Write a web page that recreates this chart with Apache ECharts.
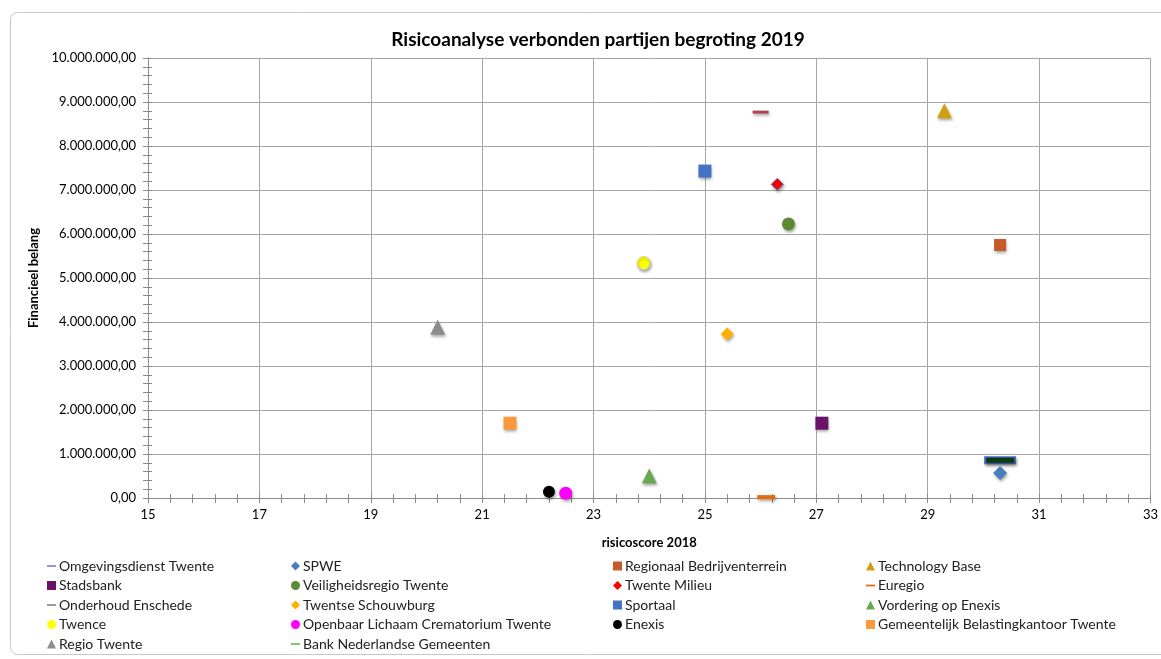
<!DOCTYPE html>
<html>
<head>
<meta charset="utf-8">
<script src="https://cdn.jsdelivr.net/npm/echarts@6/dist/echarts.min.js"></script>
<style>html,body{margin:0;padding:0;background:#fff}#c{width:1161px;height:659px}</style>
</head>
<body>
<div id="c"></div>
<script>
// Series names, values (x = risicoscore 2018, y = financieel belang)
const names = ["Omgevingsdienst Twente","SPWE","Regionaal Bedrijventerrein","Technology Base","Stadsbank","Veiligheidsregio Twente","Twente Milieu","Euregio","Onderhoud Enschede","Twentse Schouwburg","Sportaal","Vordering op Enexis","Twence","Openbaar Lichaam Crematorium Twente","Enexis","Gemeentelijk Belastingkantoor Twente","Regio Twente","Bank Nederlandse Gemeenten"];
const xValues = [30.3, 30.3, 30.3, 29.3, 27.1, 26.5, 26.3, 26.1, 26.0, 25.4, 25.0, 24.0, 23.9, 22.5, 22.2, 21.5, 20.2, 30.3];
const yValues = [860000, 570000, 5750000, 8800000, 1700000, 6230000, 7130000, 20000, 8770000, 3730000, 7430000, 500000, 5340000, 110000, 140000, 1700000, 3880000, 860000];
const xTicks = [15, 17, 19, 21, 23, 25, 27, 29, 31, 33];
const yTicks = [0, 1000000, 2000000, 3000000, 4000000, 5000000, 6000000, 7000000, 8000000, 9000000, 10000000];

// Styles
const DASH = 'path://M0,0h10v2h-10z';
const styles = [
  {symbol:'rect', size:[32,8], color:'#4f6fc0', legendColor:'#7d8fd0', icon:DASH, z:2},
  {symbol:'diamond', size:14, color:'#4a7ebb'},
  {symbol:'rect', size:12, color:'#c55b26'},
  {symbol:'triangle', size:15, color:'#d29e12'},
  {symbol:'rect', size:13, color:'#6a1368'},
  {symbol:'circle', size:13, color:'#5c8a32'},
  {symbol:'diamond', size:12, color:'#ff0000', border:'#6a6ab0'},
  {symbol:'rect', size:[18,4], color:'#e46c0a', icon:DASH},
  {symbol:'rect', size:[16,3], color:'#b0405a', legendColor:'#909090', icon:DASH},
  {symbol:'diamond', size:13, color:'#ffb000'},
  {symbol:'rect', size:13, color:'#4472c4'},
  {symbol:'triangle', size:15, color:'#6aa84f'},
  {symbol:'circle', size:13, color:'#ffff00', border:'#d0d0a0'},
  {symbol:'circle', size:13, color:'#ff00ff'},
  {symbol:'circle', size:12, color:'#000000'},
  {symbol:'rect', size:13, color:'#fb9a3c'},
  {symbol:'triangle', size:15, color:'#8c8c8c'},
  {symbol:'rect', size:[28,5], color:'#0b3d14', legendColor:'#7ab86a', icon:DASH, z:3}
];

const series = names.map((n, i) => {
  const s = styles[i];
  return {
    name: n, type: 'scatter', xAxisIndex: 0, yAxisIndex: 0,
    symbol: s.symbol, symbolSize: s.size, z: s.z || 4,
    itemStyle: {
      color: s.color, borderColor: s.border || s.color, borderWidth: s.border ? 1 : 0,
      shadowBlur: 3, shadowColor: 'rgba(0,0,0,0.35)', shadowOffsetX: 1, shadowOffsetY: 2, opacity: 1
    },
    emphasis: {disabled: true},
    data: [[xValues[i], yValues[i]]]
  };
});

function legendItem(i) {
  const s = styles[i];
  const d = {name: names[i], icon: s.icon || s.symbol};
  d.itemStyle = {shadowBlur: 0, shadowOffsetX: 0, shadowOffsetY: 0, borderWidth: 0};
  if (s.legendColor) d.itemStyle.color = s.legendColor;
  return d;
}
const cols = [[0,4,8,12,16],[1,5,9,13,17],[2,6,10,14],[3,7,11,15]];
const colLeft = [47, 291, 613, 866];
const legends = cols.map((c, k) => ({
  orient: 'vertical', left: colLeft[k], top: 559, height: 100, padding: 0,
  itemWidth: 9, itemHeight: 9, itemGap: 5.5,
  selectedMode: false,
  textStyle: {fontFamily: 'Lato', fontSize: 14, color: '#222', lineHeight: 14, padding: [0,0,0,-2]},
  data: c.map(legendItem)
}));

const fmt = v => {
  const s = Math.round(v).toString().replace(/\B(?=(\d{3})+(?!\d))/g, '.');
  return s + ',00';
};

const gridLine = {show: true, lineStyle: {color: '#a6a6a6', width: 1}};
const axisLine = {show: true, lineStyle: {color: '#8c8c8c', width: 1}};

const option = {
  animation: false,
  backgroundColor: '#fff',
  title: {
    text: 'Risicoanalyse verbonden partijen begroting 2019',
    left: 593, top: 25, textAlign: 'center',
    textStyle: {fontFamily: 'Lato', fontSize: 19, fontWeight: 'bold', color: '#000'}
  },
  graphic: [{
    type: 'rect', shape: {x: 10.5, y: 12.5, width: 1170, height: 642, r: 7},
    style: {fill: 'none', stroke: '#c8c8c8', lineWidth: 1}, z: -10, silent: true
  }],
  legend: legends,
  grid: {left: 148, right: 9, top: 58, bottom: 161, containLabel: false},
  xAxis: [{
    type: 'value', min: xTicks[0], max: xTicks[xTicks.length - 1], interval: 2,
    name: 'risicoscore 2018', nameLocation: 'middle', nameGap: 38,
    nameTextStyle: {fontFamily: 'Lato', fontSize: 13, fontWeight: 'bold', color: '#000'},
    axisLine: axisLine,
    axisTick: {show: true, length: 5, lineStyle: {color: '#8c8c8c'}},
    minorTick: {show: true, splitNumber: 5, length: 5, lineStyle: {color: '#8c8c8c'}},
    axisLabel: {fontFamily: 'Lato', fontSize: 13, color: '#000', margin: 10},
    splitLine: gridLine
  }, {
    type: 'value', min: xTicks[0], max: xTicks[xTicks.length - 1], interval: 2, position: 'bottom',
    axisLine: {show: false}, axisLabel: {show: false}, splitLine: {show: false},
    axisTick: {show: true, inside: true, length: 4, lineStyle: {color: '#8c8c8c'}},
    minorTick: {show: true, splitNumber: 5, length: 4, lineStyle: {color: '#8c8c8c'}}
  }],
  yAxis: [{
    type: 'value', min: yTicks[0], max: yTicks[yTicks.length - 1], interval: 1000000,
    name: 'Financieel belang', nameLocation: 'middle', nameGap: 101, nameRotate: 90,
    nameTextStyle: {fontFamily: 'Lato', fontSize: 13, fontWeight: 'bold', color: '#000'},
    axisLine: axisLine,
    axisTick: {show: true, length: 5, lineStyle: {color: '#8c8c8c'}},
    minorTick: {show: true, splitNumber: 5, length: 5, lineStyle: {color: '#8c8c8c'}},
    axisLabel: {fontFamily: 'Lato', fontSize: 13, color: '#000', margin: 12, formatter: fmt},
    splitLine: gridLine
  }, {
    type: 'value', min: yTicks[0], max: yTicks[yTicks.length - 1], interval: 1000000, position: 'left',
    axisLine: {show: false}, axisLabel: {show: false}, splitLine: {show: false},
    axisTick: {show: true, inside: true, length: 4, lineStyle: {color: '#8c8c8c'}},
    minorTick: {show: true, splitNumber: 5, length: 4, lineStyle: {color: '#8c8c8c'}}
  }],
  series: series
};

const chart = echarts.init(document.getElementById('c'), null, {renderer: 'canvas'});
chart.setOption(option);
</script>
</body>
</html>
